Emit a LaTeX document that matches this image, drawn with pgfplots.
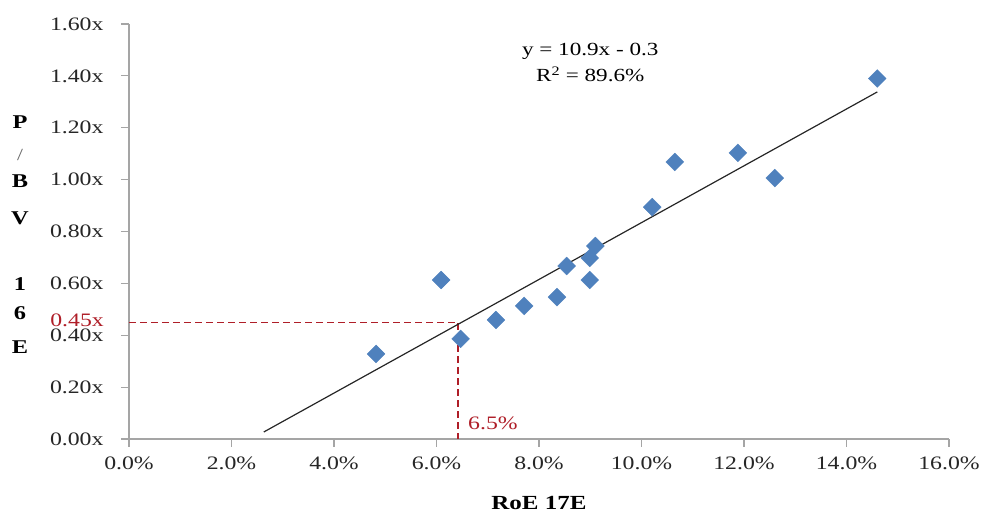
\documentclass[border=0pt]{standalone}
\usepackage{pgfplots}
\pgfplotsset{compat=1.18}
\usepackage{fontspec}
\setmainfont{Liberation Serif}[FakeStretch=1.25]

\definecolor{ptblue}{RGB}{79,129,189}
\definecolor{refred}{RGB}{175,30,40}
\definecolor{axgray}{RGB}{165,165,165}

\begin{document}
\begin{tikzpicture}
\useasboundingbox (-129pt,-74pt) rectangle (853pt,439pt);
\begin{axis}[
    at={(0pt,0pt)}, anchor=south west,
    scale only axis,
    width=820pt, height=415pt,
    xmin=0, xmax=16, ymin=0, ymax=1.6,
    axis lines=left,
    axis line style={-, draw=axgray, line width=1.2pt},
    tick align=outside,
    major tick length=8pt,
    tick style={draw=axgray, line width=1.2pt},
    xtick={0,2,4,6,8,10,12,14,16},
    xticklabels={0.0\%,2.0\%,4.0\%,6.0\%,8.0\%,10.0\%,12.0\%,14.0\%,16.0\%},
    ytick={0,0.2,0.4,0.6,0.8,1.0,1.2,1.4,1.6},
    yticklabels={0.00x,0.20x,0.40x,0.60x,0.80x,1.00x,1.20x,1.40x,1.60x},
    ticklabel style={font=\fontsize{19}{20}\selectfont, text=black!85},
    yticklabel style={xshift=-14pt},
    xticklabel style={yshift=-6pt},
    clip=false,
]
% reference lines at 6.5% / 0.45x
\addplot[refred, line width=1.3pt, dash pattern=on 7pt off 4pt] coordinates {(0,0.45) (6.42,0.45) (6.42,0)};

% trend line
\addplot[black!85, line width=1.2pt] coordinates {(2.63,0.027) (14.6,1.338)};

% companies
\addplot[only marks, mark=square*, mark size=6.3pt, color=ptblue,
    mark options={rotate=45, fill=ptblue, draw=ptblue}] coordinates {
    (4.82,0.328)
    (6.09,0.613)
    (6.47,0.386)
    (7.16,0.459)
    (7.71,0.513)
    (8.35,0.547)
    (8.54,0.667)
    (8.99,0.613)
    (8.99,0.698)
    (9.10,0.744)
    (10.21,0.894)
    (10.65,1.068)
    (11.88,1.103)
    (12.60,1.006)
    (14.60,1.390)
};

\node[align=center, font=\fontsize{18.5}{26}\selectfont] at (axis cs:9.0,1.45) {y = 10.9x - 0.3\\R\textsuperscript{2} = 89.6\%};
\node[anchor=east, text=refred, font=\fontsize{19}{20}\selectfont, inner sep=0pt] at ([xshift=-25pt,yshift=1.5pt]axis cs:0,0.45) {0.45x};
\node[anchor=west, text=refred, font=\fontsize{19}{20}\selectfont] at (axis cs:6.55,0.06) {6.5\%};

% axis titles
\begin{scope}[font=\fontsize{19.5}{20}\selectfont\bfseries]
\node at ([xshift=-109pt]axis cs:0,1.222) {P};
\node[font=\fontsize{17}{18}\selectfont, text=black!60] at ([xshift=-109pt]axis cs:0,1.095) {/};
\node at ([xshift=-109pt]axis cs:0,0.995) {B};
\node at ([xshift=-109pt]axis cs:0,0.852) {V};
\node at ([xshift=-109pt]axis cs:0,0.598) {1};
\node at ([xshift=-109pt]axis cs:0,0.486) {6};
\node at ([xshift=-109pt]axis cs:0,0.355) {E};
\node[font=\fontsize{20}{22}\selectfont\bfseries] at ([yshift=-64pt]axis cs:8.0,0) {RoE 17E};
\end{scope}
\end{axis}
\end{tikzpicture}
\end{document}
